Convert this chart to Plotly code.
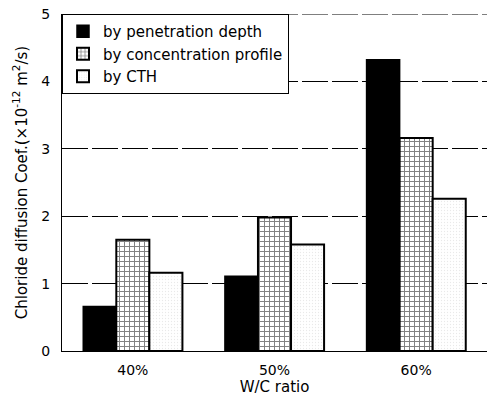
import plotly.graph_objects as go

categories = ["40%", "50%", "60%"]
by_penetration_depth = [0.66, 1.11, 4.32]
by_concentration_profile = [1.65, 1.98, 3.16]
by_cth = [1.16, 1.58, 2.26]

font_family = "DejaVu Sans, Arial, sans-serif"
grid_dash = "26px,4px"

fig = go.Figure()
fig.add_trace(go.Bar(
    x=categories, y=by_penetration_depth, name="by penetration depth",
    marker=dict(color="black", line=dict(color="black", width=1.5)),
))
fig.add_trace(go.Bar(
    x=categories, y=by_concentration_profile, name="by concentration profile",
    marker=dict(color="white", line=dict(color="black", width=2),
                pattern=dict(shape="+", fgcolor="black", bgcolor="white",
                             size=5, solidity=0.35)),
))
fig.add_trace(go.Bar(
    x=categories, y=by_cth, name="by CTH",
    marker=dict(color="white", line=dict(color="black", width=2),
                pattern=dict(shape=".", fgcolor="#d4d4d4", bgcolor="white",
                             size=3, solidity=0.15)),
))

# frame line along the top of the value range
fig.add_shape(type="line", xref="paper", yref="y", x0=0, x1=1, y0=5, y1=5,
              line=dict(color="black", width=1, dash=grid_dash), layer="below")

fig.update_layout(
    width=493, height=402,
    margin=dict(l=62, r=6, t=10, b=51),
    paper_bgcolor="white", plot_bgcolor="white",
    barmode="group", bargap=0.3, bargroupgap=0,
    font=dict(family=font_family, size=14, color="black"),
    showlegend=True,
    legend=dict(x=0, y=1, xanchor="left", yanchor="top",
                bordercolor="black", borderwidth=1, bgcolor="white",
                font=dict(size=15), itemwidth=30,
                traceorder="normal"),
)
fig.update_xaxes(
    showline=True, linecolor="black", linewidth=1, ticks="",
    ticklabelstandoff=6,
    title=dict(text="W/C ratio", font=dict(size=15), standoff=4),
    tickfont=dict(size=14),
)
fig.update_yaxes(
    range=[0, 5], dtick=1, showline=True, linecolor="black", linewidth=1,
    showgrid=True, gridcolor="black", gridwidth=1, griddash=grid_dash,
    zeroline=False, ticks="", ticklabelstandoff=8, tickfont=dict(size=14),
    title=dict(text="Chloride diffusion Coef.(×10<sup>-12</sup> m<sup>2</sup>/s)",
               font=dict(size=15), standoff=10),
)

fig.write_html("out.html")
